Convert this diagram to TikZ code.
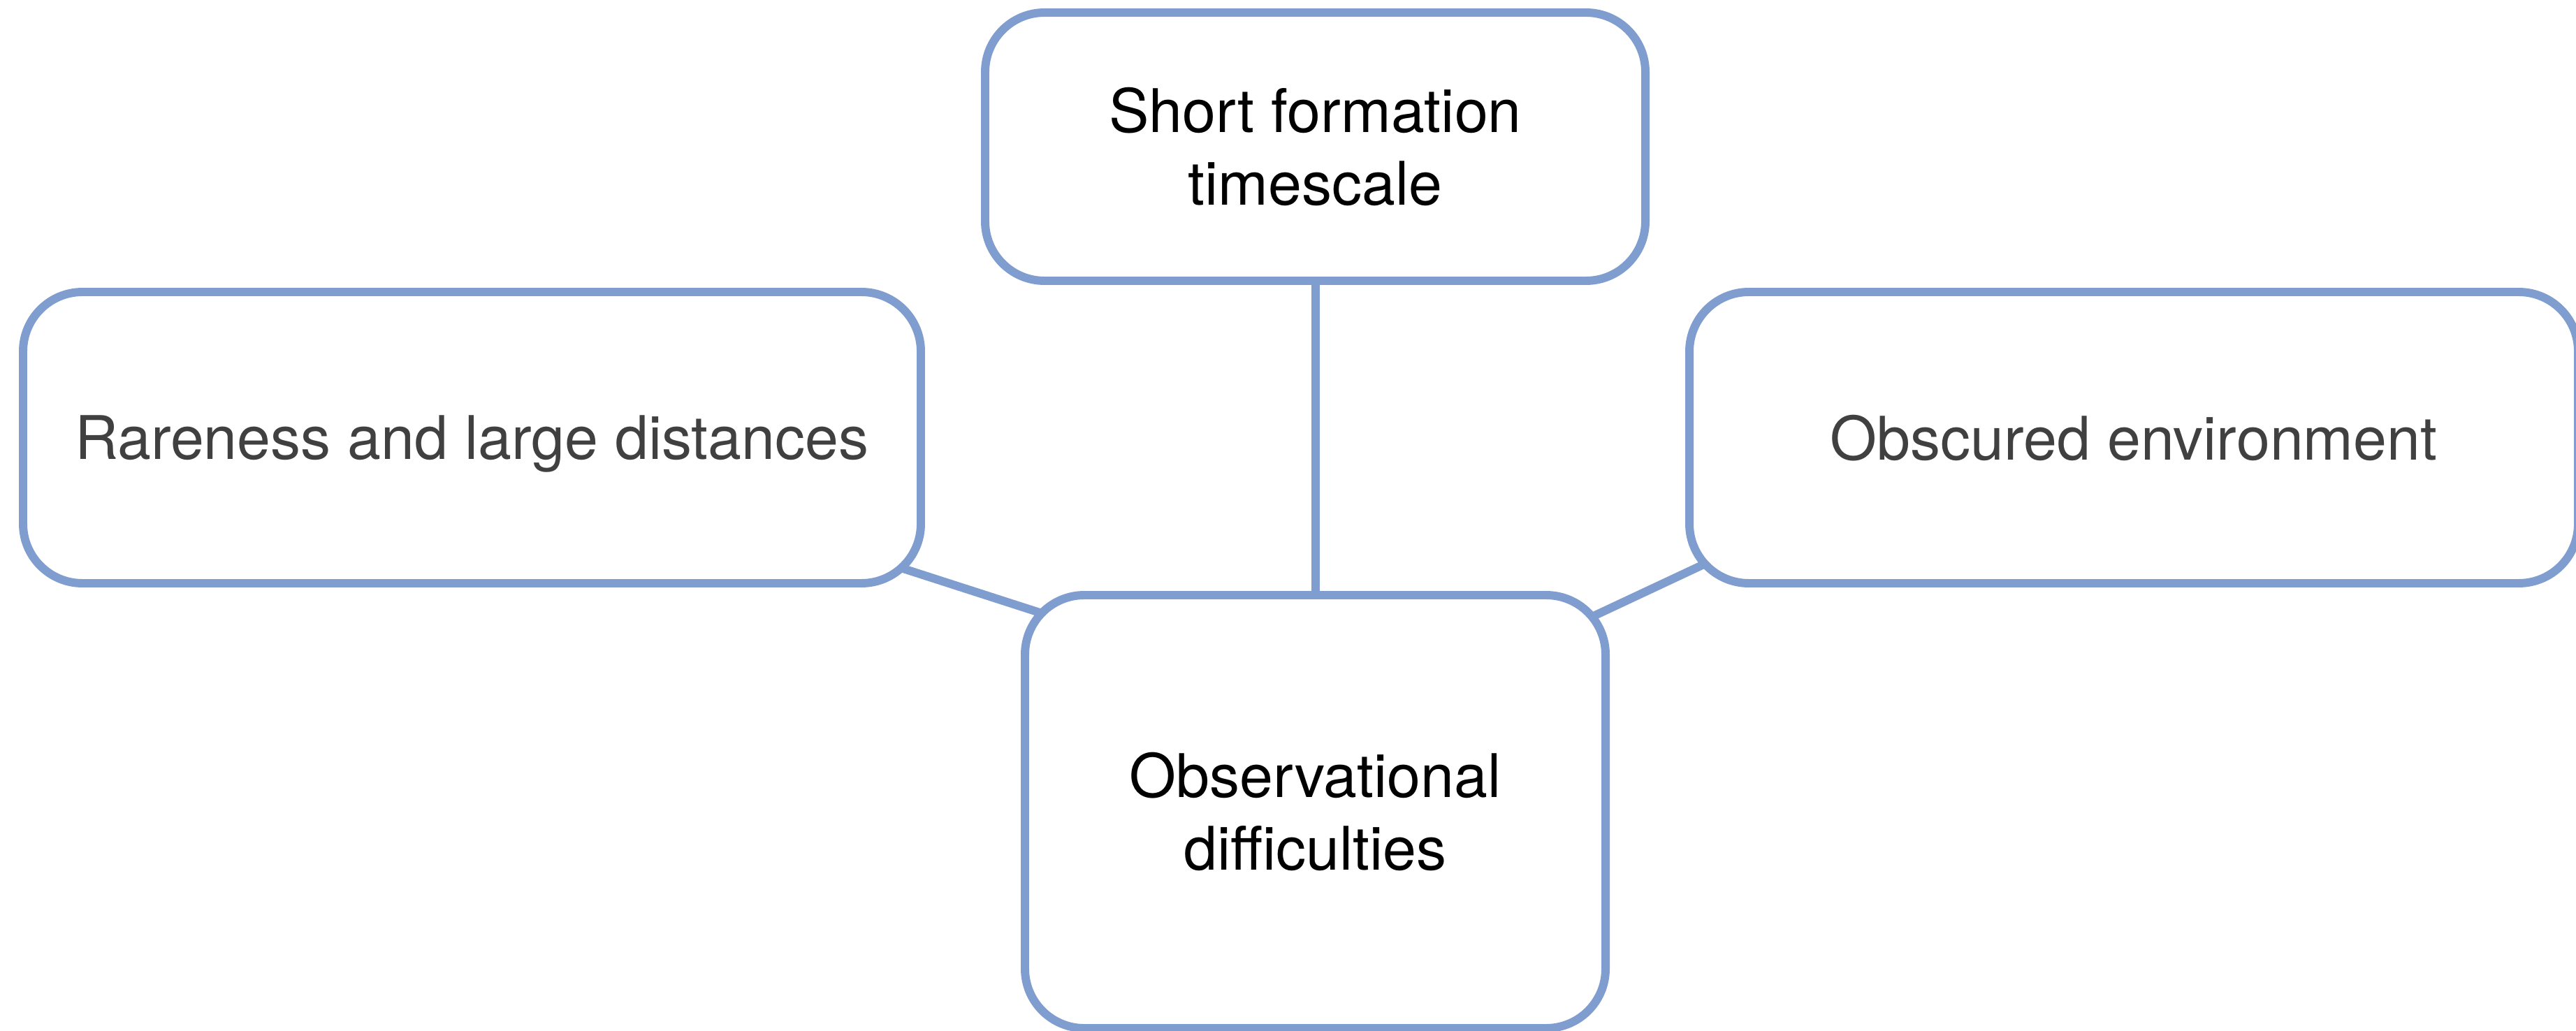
\documentclass[tikz,border=0pt]{standalone}
\usepackage{fontspec}
\setmainfont{TeX Gyre Heros}
\usetikzlibrary{backgrounds,calc}

\definecolor{boxblue}{HTML}{7F9DCE}
\definecolor{softgray}{HTML}{404040}

\tikzstyle{block} = [rectangle, draw=boxblue, line width=3.4pt, fill=white, rounded corners=0.85cm, inner sep=0pt, align=center, font=\fontsize{24.5}{29.4}\selectfont]
\tikzstyle{side} = [block, text=softgray, text depth=0pt, minimum height=4.17cm]
\tikzstyle{link} = [draw=boxblue, line width=3.4pt]

\begin{document}
\begin{tikzpicture}
        \useasboundingbox (0,0) rectangle (36.87,-14.76);
        % Central node and the three causes around it
        \node (obs) at (18.825,-11.62) [block, minimum width=8.31cm, minimum height=6.20cm] {Observational\\difficulties};
        \node (short) at (18.825,-2.10) [block, minimum width=9.45cm, minimum height=3.84cm] {Short formation\\timescale};
        \node (rare) at (6.755,-6.265) [side, minimum width=12.85cm] {Rareness and large distances};
        \node (env) at (30.54,-6.265) [side, minimum width=12.72cm] {Obscured environment};
        % Connectors, drawn behind the boxes
        \begin{scope}[on background layer]
            \draw[link] ($(rare.south east)+(-2.05,0.83)$) -- ($(obs.north west)+(2.07,-0.89)$);
            \draw[link] ($(obs.north east)+(-1.64,-1.02)$) -- ($(env.south west)+(1.63,0.97)$);
        \end{scope}
        \draw[link] (short.south) -- (obs.north);
    \end{tikzpicture}
\end{document}
